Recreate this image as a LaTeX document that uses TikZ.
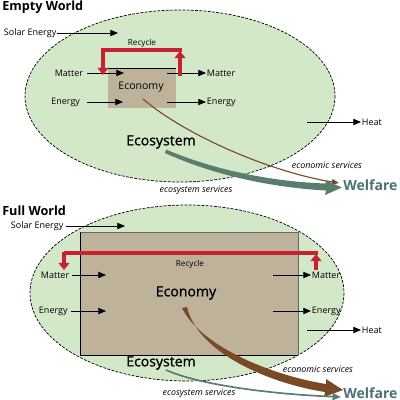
\documentclass[tikz,border=0pt]{standalone}
\usepackage{fontspec}
\setmainfont{Open Sans}
\newfontfamily\semib[FakeBold=1.2]{Open Sans}
\usetikzlibrary{
  arrows.meta,  % 箭头样式
  positioning   % 节点相对定位
}

\definecolor{ecogreen}{HTML}{D3E8C9}
\definecolor{econtan}{HTML}{BEB29B}
\definecolor{recyred}{HTML}{C62231}
\definecolor{servbrown}{HTML}{7A4A24}
\definecolor{servteal}{HTML}{5A7E6E}
\definecolor{welfblue}{HTML}{4B7078}

\tikzset{
  lbl/.style={font=\fontsize{6.4}{7}\selectfont, inner sep=0.5pt},
  small/.style={font=\fontsize{5.8}{7}\selectfont, inner sep=0.5pt},
  svc/.style={font=\fontsize{6.3}{7}\itshape, inner sep=0.5pt},
  title/.style={font=\fontsize{9}{10}\bfseries, inner sep=0pt, anchor=west},
  big/.style={font=\fontsize{10}{11}\semib, inner sep=0pt},
  welf/.style={font=\fontsize{10}{11}\bfseries, text=welfblue, inner sep=0pt, anchor=west},
  flow/.style={-{Triangle[length=5.5pt, width=4.5pt]}, line width=0.5pt},
  recy/.style={recyred, line width=2.6pt, -{Triangle[length=5pt, width=7.5pt]}},
  recyline/.style={recyred, line width=2.6pt},
  eco/.style={draw=black, dash pattern=on 2pt off 1pt, fill=ecogreen, line width=0.5pt}
}

\begin{document}
\begin{tikzpicture}[x=0.025cm, y=-0.025cm]
  \useasboundingbox (0,0) rectangle (400,400);

  % ===== 空的世界 =====
  \node[title] (titleA) at (2,7) {Empty World};
  \draw[eco] (180,96) ellipse [x radius=155, y radius=86];

  % 经济系统方框
  \fill[econtan] (108,68) rectangle (176,108);
  \draw[line width=0.5pt] (108,68) -- (176,68);
  \node[font=\fontsize{7.5}{8}\selectfont] (econA) at (141,87) {Economy};

  % 输入与输出
  \node[lbl, anchor=west] (solarA) at (3,33) {Solar Energy};
  \coordinate (solarAe) at (118,33);
  \draw[flow] (solarA.east) -- (solarAe);
  \node[lbl, anchor=east] (matInA) at (84,73) {Matter};
  \coordinate (matInAe) at (124,73);
  \draw[flow] (matInA.east) ++(3,0) -- (matInAe);
  \node[lbl, anchor=east] (enInA) at (81,102) {Energy};
  \coordinate (enInAe) at (123,102);
  \draw[flow] (enInA.east) ++(6,0) -- (enInAe);
  \node[lbl, anchor=west] (matOutA) at (206,73) {Matter};
  \coordinate (matOutAs) at (167,73);
  \draw[flow] (matOutAs) -- (matOutA.west);
  \node[lbl, anchor=west] (enOutA) at (206,102) {Energy};
  \coordinate (enOutAs) at (167,102);
  \draw[flow] (enOutAs) -- (enOutA.west);
  \node[lbl, anchor=west] (heatA) at (361,122) {Heat};
  \coordinate (heatAs) at (307,122);
  \draw[flow] (heatAs) -- (heatA.west);

  % 循环
  \node[small] (recyA) at (142,43) {Recycle};
  \coordinate (rcA1) at (180,76);
  \coordinate (rcA2) at (180,51);
  \coordinate (rcA3) at (103,50);
  \coordinate (rcA4) at (103,75);
  \draw[recy] (rcA1) -- (rcA2);
  \draw[recyline] (181.5,50) -- (rcA3);
  \draw[recy] (103,48.5) -- (rcA4);

  % 生态系统与福利
  \node[big] (ecoA) at (161,142) {Ecosystem};
  \node[welf] (welfA) at (343,185) {Welfare};
  \draw[servbrown, line width=0.8pt, -{Triangle[length=5pt, width=4pt]}]
    (143,99) .. controls (185,135) and (270,172) .. (339,183);
  \fill[servteal] (166,149.5) .. controls (220,172.5) and (280,182) .. (326,183.5)
    -- (325,180) -- (342,187.5) -- (325,195) -- (326,190.5)
    .. controls (280,188) and (220,178) .. (165,153) -- cycle;
  \node[svc] (esvcA) at (327,165) {economic services};
  \node[svc] (osvcA) at (196,190) {ecosystem services};

  % ===== 满的世界 =====
  \node[title] (titleB) at (2,211) {Full World};
  \draw[eco] (187,293) ellipse [x radius=157, y radius=88];

  % 经济系统方框
  \fill[econtan] (80,232) rectangle (298,355);
  \draw[black!60, line width=0.5pt] (80,232) -- (298,232) -- (298,355);
  \draw[black, line width=0.6pt] (80,232) -- (80,355) -- (298,355);
  \node[big] (econB) at (186,293) {Economy};

  % 输入与输出
  \node[lbl, anchor=west] (solarB) at (10,226) {Solar Energy};
  \coordinate (solarBe) at (125,226);
  \draw[flow] (solarB.east) ++(2,0) -- (solarBe);
  \node[lbl, anchor=west] (matInB) at (40,275) {Matter};
  \coordinate (matInBe) at (106,275);
  \draw[flow] (matInB.east) ++(2,0) -- (matInBe);
  \node[lbl, anchor=west] (enInB) at (38,311) {Energy};
  \coordinate (enInBe) at (106,311);
  \draw[flow] (enInB.east) ++(2,0) -- (enInBe);
  \node[lbl, anchor=west] (matOutB) at (311,275) {Matter};
  \coordinate (matOutBs) at (273,275);
  \draw[flow] (matOutBs) -- (matOutB.west);
  \node[lbl, anchor=west] (enOutB) at (311,311) {Energy};
  \coordinate (enOutBs) at (273,311);
  \draw[flow] (enOutBs) -- (enOutB.west);
  \node[lbl, anchor=west] (heatB) at (361,330) {Heat};
  \coordinate (heatBs) at (307,330);
  \draw[flow] (heatBs) -- (heatB.west);

  % 循环
  \node[small] (recyB) at (190,264) {Recycle};
  \coordinate (rcB1) at (316,270);
  \coordinate (rcB2) at (316,254);
  \coordinate (rcB3) at (64,253);
  \coordinate (rcB4) at (64,270);
  \draw[recy] (rcB1) -- (rcB2);
  \draw[recyline] (317.5,253) -- (rcB3);
  \draw[recy] (64,251.5) -- (rcB4);

  % 生态系统与福利
  \node[big] (ecoB) at (161,363) {Ecosystem};
  \node[welf] (welfB) at (343,393) {Welfare};
  \fill[servbrown] (182,308) .. controls (202,348) and (275,376) .. (326,384)
    -- (326,379) -- (343,390) -- (324,397) -- (325,392)
    .. controls (272,384) and (198,354) .. (187,307) -- cycle;
  \draw[servteal, line width=1.2pt, -{Triangle[length=6pt, width=5pt]}]
    (166,370) .. controls (200,385) and (270,394) .. (341,397);
  \node[svc] (esvcB) at (318,369) {economic services};
  \node[svc] (osvcB) at (199,393) {ecosystem services};
\end{tikzpicture}
\end{document}
